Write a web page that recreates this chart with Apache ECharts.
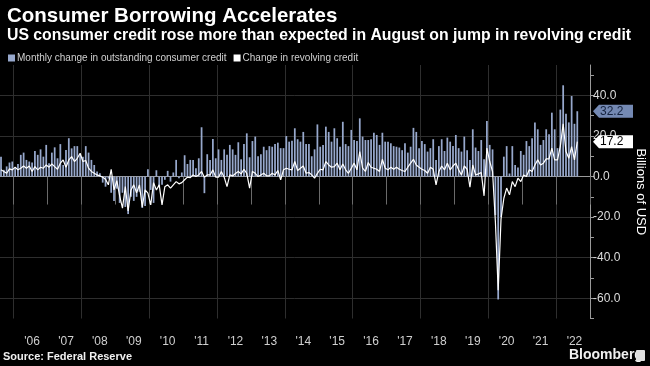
<!DOCTYPE html>
<html><head><meta charset="utf-8">
<script src="https://cdn.jsdelivr.net/npm/echarts@6/dist/echarts.min.js"></script>
<style>html,body{margin:0;padding:0;background:#000;}#c{width:650px;height:366px;}</style>
</head><body><div id="c"></div>
<script>
// Monthly data, Aug 2005 .. Aug 2022 (billions of USD)
const firstMonth = [2005, 8];   // axis starts Aug 2005
const lastAxisYear = 2022;      // axis runs through Dec 2022
const yearLabels = ["'06","'07","'08","'09","'10","'11","'12","'13","'14","'15","'16","'17","'18","'19","'20","'21","'22"];
const yTickValues = [-60, -40, -20, 0, 20, 40];

const total2005 = [9.8, 3.3, 5.0, 6.9, 7.4];
const total2006 = [4.1, 6.2, 10.7, 11.8, 8.2, 7.4, 6.9, 12.6, 10.7, 13.4, 9.8, 15.6];
const total2007 = [6.6, 11.8, 14.4, 9.0, 16.0, 5.7, 13.1, 18.9, 13.9, 15.0, 15.0, 10.7];
const total2008 = [9.8, 15.0, 11.8, 8.2, 5.7, 2.5, 1.6, -3.0, -5.0, -1.0, -8.0, -12.0];
const total2009 = [-6.0, -13.0, -8.0, -15.0, -18.5, -10.0, -12.0, -10.0, -7.5, -15.5, -14.5, 3.6];
const total2010 = [-6.6, -13.0, 3.1, -5.0, -4.0, -1.6, 2.8, -2.5, 2.0, 8.2, -0.8, 2.0];
const total2011 = [10.5, 6.2, 8.2, 8.2, 4.1, 9.0, 24.3, -8.2, 11.0, 8.2, 18.5, 9.0];
const total2012 = [13.4, 8.2, 13.4, 10.7, 15.6, 13.4, 10.7, 16.9, 8.5, 16.0, 21.3, 9.5];
const total2013 = [17.5, 19.7, 10.0, 11.0, 14.7, 13.0, 15.0, 14.7, 16.0, 16.7, 14.0, 14.0];
const total2014 = [20.0, 17.2, 17.7, 23.8, 18.4, 17.2, 22.0, 16.0, 16.0, 10.0, 13.4, 25.7];
const total2015 = [14.7, 15.6, 24.6, 22.0, 17.2, 23.8, 18.9, 14.7, 27.0, 16.0, 15.0, 23.0];
const total2016 = [18.0, 17.5, 28.7, 19.7, 18.0, 18.0, 18.4, 21.6, 20.5, 15.6, 21.6, 17.2];
const total2017 = [17.2, 16.4, 15.0, 14.7, 14.3, 13.0, 16.4, 11.8, 14.7, 24.0, 22.0, 14.0];
const total2018 = [17.5, 16.0, 12.3, 14.0, 18.4, 8.2, 15.0, 18.4, 12.6, 19.2, 17.2, 15.0];
const total2019 = [20.5, 14.0, 12.3, 19.7, 13.0, 8.2, 23.3, 14.3, 12.6, 18.0, 8.5, 27.4];
const total2020 = [15.6, 13.4, -19.0, -60.6, -20.0, 9.8, 15.0, 1.5, 15.0, 5.7, 4.4, 12.6];
const total2021 = [10.7, 17.5, 15.0, 18.9, 26.7, 23.3, 15.6, 18.0, 23.3, 20.8, 31.5, 23.3];
const total2022 = [14.0, 33.0, 45.0, 31.0, 26.7, 39.7, 26.0, 32.2];

const revolving2005 = [3.3, 2.5, 1.6, 3.8, 3.3];
const revolving2006 = [4.6, 3.3, 4.1, 5.2, 4.1, 5.2, 2.5, 4.9, 3.3, 4.6, 4.1, 5.7];
const revolving2007 = [4.6, 6.2, 4.9, 3.6, 6.6, 8.2, 4.6, 8.2, 9.8, 7.4, 9.0, 11.5];
const revolving2008 = [7.4, 7.9, 4.1, 2.5, 1.6, 0.8, 0.3, -0.3, -1.3, -4.1, 3.6, -6.6];
const revolving2009 = [-2.0, -9.5, -15.6, -5.0, -17.0, -6.6, -4.1, -8.0, -4.1, -15.0, -6.6, -8.2];
const revolving2010 = [-14.0, -3.0, -6.6, -4.1, -14.0, -5.0, -4.1, -5.7, -4.1, -2.5, -3.6, -3.0];
const revolving2011 = [-1.6, -0.3, -0.5, 0.8, 0.0, 0.8, 2.5, -0.3, 0.8, 0.8, 3.3, -0.3];
const revolving2012 = [-0.3, 2.5, -0.3, -5.0, 0.8, 0.3, 1.5, 2.5, 1.3, 3.6, 1.6, -5.7];
const revolving2013 = [2.5, 1.6, 0.0, 0.8, 1.6, 0.3, 0.3, 1.6, 0.8, 3.0, -1.6, 3.3];
const revolving2014 = [4.1, 3.6, 3.3, 7.4, 3.0, 4.1, 5.2, 1.6, 2.0, 0.8, -0.8, 1.6];
const revolving2015 = [3.6, 3.3, 7.4, 5.7, 4.6, 4.9, 6.6, 3.3, 6.2, 3.3, 1.6, 4.1];
const revolving2016 = [6.6, 3.3, 12.3, 4.1, 2.5, 6.9, 4.6, 4.1, 3.6, 2.5, 8.5, 4.1];
const revolving2017 = [3.3, 4.6, 3.6, 4.6, 3.6, 3.0, 2.5, 4.6, 6.6, 8.5, 5.7, 4.6];
const revolving2018 = [3.6, 3.0, 1.6, 4.6, 3.6, -4.1, 2.5, 5.2, 3.3, 6.6, 3.3, 5.2];
const revolving2019 = [6.6, 3.3, 0.8, 5.2, 3.6, -5.2, 5.7, 0.8, 1.3, 2.0, -9.5, 14.0];
const revolving2020 = [7.4, 2.5, -22.0, -56.0, -21.0, -10.7, -5.7, -9.0, -2.5, -5.0, -0.8, -2.5];
const revolving2021 = [0.8, 0.0, 3.3, 2.5, 5.7, 8.2, 5.7, 6.6, 8.7, 8.7, 14.0, 8.2];
const revolving2022 = [8.2, 15.0, 26.0, 12.3, 9.0, 14.7, 8.2, 17.2];

const totalChange = [].concat(total2005, total2006, total2007, total2008, total2009, total2010,
  total2011, total2012, total2013, total2014, total2015, total2016, total2017, total2018,
  total2019, total2020, total2021, total2022);
const revolvingChange = [].concat(revolving2005, revolving2006, revolving2007, revolving2008,
  revolving2009, revolving2010, revolving2011, revolving2012, revolving2013, revolving2014,
  revolving2015, revolving2016, revolving2017, revolving2018, revolving2019, revolving2020,
  revolving2021, revolving2022);

// month categories Aug 2005 .. Dec 2022
const months = [];
for (let y = firstMonth[0]; y <= lastAxisYear; y++) {
  for (let m = 1; m <= 12; m++) {
    if (y === firstMonth[0] && m < firstMonth[1]) continue;
    months.push(y + '-' + (m < 10 ? '0' + m : m));
  }
}
const monthOf = s => parseInt(s.slice(5), 10);
const yearOf = s => parseInt(s.slice(0, 4), 10);

const BAR = '#97a8cc';
const FONT = '"Liberation Sans", Arial, sans-serif';
const chart = echarts.init(document.getElementById('c'), null, {renderer: 'canvas'});

chart.setOption({
  backgroundColor: '#000',
  animation: false,
  textStyle: {fontFamily: FONT},
  title: {
    text: 'Consumer Borrowing Accelerates',
    subtext: 'US consumer credit rose more than expected in August on jump in revolving credit',
    left: 2, top: 1, itemGap: 1,
    textStyle: {color: '#fff', fontSize: 20.5, fontWeight: 'bold', fontFamily: FONT},
    subtextStyle: {color: '#fff', fontSize: 15.8, fontWeight: 'bold', fontFamily: FONT}
  },
  legend: {
    left: 3, top: 48, itemWidth: 7, itemHeight: 7, itemGap: 7,
    textStyle: {color: '#d0d0d0', fontSize: 10, fontFamily: FONT, padding: [0, 0, 0, -3]},
    data: [
      {name: 'Monthly change in outstanding consumer credit', icon: 'rect'},
      {name: 'Change in revolving credit', icon: 'rect'}
    ]
  },
  grid: {left: -0.4, right: 60, top: 65, bottom: 47.5, containLabel: false, outerBoundsMode: 'none'},
  xAxis: {
    type: 'category', data: months, boundaryGap: true,
    axisLine: {show: true, lineStyle: {color: '#9a9a9a', width: 1}},
    axisTick: {show: true, length: 28, lineStyle: {color: '#6a6a6a'},
      interval: (i, v) => monthOf(v) === 1},
    axisLabel: {color: '#cfcfcf', fontSize: 12, margin: 17,
      interval: (i, v) => monthOf(v) === 7 && yearOf(v) >= 2006,
      formatter: v => yearLabels[yearOf(v) - 2006]},
    splitLine: {show: true, lineStyle: {color: '#2e2e2e', width: 1},
      interval: (i, v) => monthOf(v) === 1 && yearOf(v) % 2 === 0}
  },
  yAxis: {
    type: 'value', position: 'right', min: -70, max: 55, interval: 10,
    axisLine: {show: true, lineStyle: {color: '#9a9a9a'}},
    axisTick: {show: true, length: 4, lineStyle: {color: '#9a9a9a'}},
    axisLabel: {color: '#dcdcdc', fontSize: 12, margin: 3, showMaxLabel: false,
      formatter: v => yTickValues.indexOf(v) >= 0 ? v.toFixed(1) : ''},
    splitLine: {show: true, showMaxLine: false,
      lineStyle: {color: ['rgba(0,0,0,0)', '#2e2e2e'], width: 1}},
    name: 'Billions of USD', nameLocation: 'middle', nameRotate: -90, nameGap: 44,
    nameTextStyle: {color: '#fff', fontSize: 13, fontFamily: FONT}
  },
  series: [
    {name: 'Monthly change in outstanding consumer credit', type: 'bar', data: totalChange,
      barWidth: '62%', itemStyle: {color: BAR}, z: 2},
    {name: 'Change in revolving credit', type: 'line', data: revolvingChange,
      symbol: 'none', lineStyle: {color: '#ffffff', width: 1.2}, itemStyle: {color: '#ffffff'}, z: 3}
  ]
});

// last-value tags on the axis, and footer texts
const lastTotal = totalChange[totalChange.length - 1];
const lastRev = revolvingChange[revolvingChange.length - 1];
const axisX = chart.convertToPixel({xAxisIndex: 0}, months[months.length - 1]) + 1.4;
function tag(val, fill, txt) {
  const y = chart.convertToPixel({yAxisIndex: 0}, val);
  const x0 = axisX + 3;
  return [
    {type: 'polygon', z: 100, shape: {points: [[x0, y], [x0 + 6, y - 6.5], [x0 + 40, y - 6.5], [x0 + 40, y + 6.5], [x0 + 6, y + 6.5]]},
      style: {fill: fill}},
    {type: 'text', z: 101, x: x0 + 7, y: y, style: {text: val.toFixed(1), fill: txt, fontSize: 12,
      fontFamily: FONT, verticalAlign: 'middle', align: 'left'}}
  ];
}
chart.setOption({
  graphic: [].concat(
    tag(lastTotal, '#7489b3', '#15233f'),
    tag(lastRev, '#ffffff', '#000000'),
    [
      {type: 'text', left: 3, top: 351, style: {text: 'Source: Federal Reserve', fill: '#f0f0f0',
        fontSize: 11, fontWeight: 'bold', fontFamily: FONT}},
      {type: 'text', left: 569, top: 348, style: {text: 'Bloomberg', fill: '#f0f0f0',
        fontSize: 14, fontWeight: 'bold', fontFamily: FONT}},
      {type: 'rect', left: 636, top: 350, shape: {width: 9, height: 11, r: 1}, style: {fill: '#e0e0e0'}}
    ])
});
</script></body></html>
